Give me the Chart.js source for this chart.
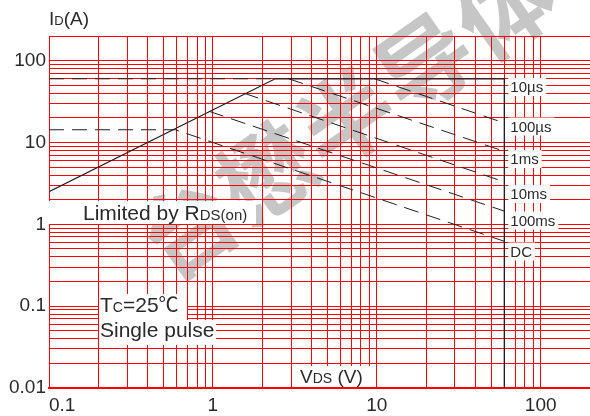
<!DOCTYPE html>
<html>
<head>
<meta charset="utf-8">
<script src="https://cdn.jsdelivr.net/npm/chart.js@4.4.1/dist/chart.umd.min.js"></script>
<style>
  html, body { margin: 0; padding: 0; background: #fff; }
  #wrap { width: 590px; height: 416px; }
</style>
</head>
<body>
<div id="wrap"><canvas id="soa"></canvas></div>
<script>
// VDS (V) and ID (A) for each limit line
const rdsLimitV = [0.1, 2.4, 60, 60];
const rdsLimitI = [2.5, 60, 60, 0.01];
const peakDashV = [0.1, 2.4];
const peakDashI = [60, 60];
const us100V = [9.7, 60];
const us100I = [60, 17.3];
const ms1V = [2.9, 60];
const ms1I = [60, 7.8];
const ms10V = [1.55, 60];
const ms10I = [40, 3.3];
const ms100V = [0.95, 60];
const ms100I = [24, 1.45];
const dcV = [0.1, 0.59, 60];
const dcI = [14.3, 14.3, 0.62];

const pulseLabels = ["10µs", "100µs", "1ms", "10ms", "100ms", "DC"];
const xTickLabels = ["0.1", "1", "10", "100"];
const yTickLabels = ["0.01", "0.1", "1", "10", "100"];
const xMin = 0.1, xMax = 200;
const yMin = 0.01, yMax = 200;

const FONT = '"Liberation Sans", Arial, sans-serif';
const TEXT = "#2a2a2a";

// log grid: 1..9 in every decade
function logGrid(min, max) {
    const out = [];
    for (let d = min; d <= max; d *= 10) {
        for (let m = 1; m <= 9; m++) {
            const v = Number((d * m).toPrecision(3));
            if (v <= max + 1e-9) out.push(v);
        }
    }
    return out;
}

const pts = (xs, ys) => xs.map((x, i) => ({ x: x, y: ys[i] }));

function line(xs, ys, dashed) {
    return {
        data: pts(xs, ys),
        showLine: true,
        borderColor: "#1e1e1e",
        borderWidth: dashed ? 1 : 1.3,
        borderDash: dashed ? [15, 8] : [],
        pointRadius: 0,
        fill: false,
    };
}

// text with small subscript parts: [text, size, font?]
function drawRich(ctx, parts, x, y) {
    let cx = x;
    parts.forEach(([txt, size, fam]) => {
        ctx.font = size + "px " + (fam || FONT);
        ctx.fillText(txt, cx, y);
        cx += ctx.measureText(txt).width;
    });
    return cx - x;
}

const notes = [
    { parts: [["I", 19], ["D", 13], ["(A)", 19]], x: 49, y: 25 },
    { parts: [["Limited by R", 21], ["DS(on)", 15]], x: 83, y: 220, box: [49, 201, 207, 23] },
    { parts: [["T", 21], ["C", 14], ["=25", 21], ["℃", 20, '"Noto Sans CJK SC"']], x: 100, y: 312, box: [99, 294, 88, 26] },
    { parts: [["Single pulse", 21]], x: 100, y: 337, box: [99, 320, 117, 25] },
    { parts: [["V", 19], ["DS", 14], [" (V)", 19]], x: 300, y: 383, box: [296, 366, 77, 21] },
];
const pulseBaselines = [92, 131.5, 164, 199, 225.5, 256.5];

const watermark = {
    id: "watermark",
    beforeDraw(chart) {
        const ctx = chart.ctx;
        const chars = "台懋半导体".split("");
        ctx.save();
        ctx.fillStyle = "rgb(198,198,198)";
        ctx.font = 'bold 94px "Noto Sans CJK SC"';
        ctx.textAlign = "center";
        ctx.textBaseline = "middle";
        chars.forEach((ch, i) => {
            ctx.save();
            ctx.translate(188 + i * 79, 228 - i * 55);
            ctx.rotate(-35 * Math.PI / 180);
            ctx.fillText(ch, 0, 0);
            ctx.restore();
        });
        ctx.restore();
    },
};

const annotations = {
    id: "annotations",
    afterDatasetsDraw(chart) {
        const ctx = chart.ctx;
        ctx.save();
        ctx.textBaseline = "alphabetic";
        ctx.textAlign = "left";
        notes.forEach(n => {
            if (n.box) {
                ctx.fillStyle = "#fff";
                ctx.fillRect(n.box[0], n.box[1], n.box[2], n.box[3]);
            }
            ctx.fillStyle = TEXT;
            drawRich(ctx, n.parts, n.x, n.y);
        });
        const lx = chart.scales.x.getPixelForValue(60) + 6;
        ctx.font = "15px " + FONT;
        pulseLabels.forEach((t, i) => {
            const w = ctx.measureText(t).width;
            ctx.fillStyle = "#fff";
            ctx.fillRect(lx - 2, pulseBaselines[i] - 14, w + 5, 18);
            ctx.fillStyle = TEXT;
            ctx.fillText(t, lx, pulseBaselines[i]);
        });
        ctx.restore();
    },
};

new Chart(document.getElementById("soa"), {
    type: "scatter",
    data: {
        datasets: [
            line(rdsLimitV, rdsLimitI, false),
            line(peakDashV, peakDashI, true),
            line(us100V, us100I, true),
            line(ms1V, ms1I, true),
            line(ms10V, ms10I, true),
            line(ms100V, ms100I, true),
            line(dcV, dcI, true),
        ],
    },
    options: {
        responsive: true,
        maintainAspectRatio: false,
        animation: false,
        layout: { padding: { top: 36, left: 0, right: 0, bottom: 0 } },
        plugins: { legend: { display: false }, tooltip: { enabled: false } },
        scales: {
            x: {
                type: "logarithmic",
                min: xMin,
                max: xMax,
                afterBuildTicks: (s) => { s.ticks = logGrid(xMin, xMax).map(v => ({ value: v })); },
                afterFit: (s) => { s.height = 28; s.paddingRight = 0; s.paddingLeft = 0; },
                grid: { color: "#ff0000", lineWidth: 1, drawTicks: false },
                border: { color: "#ff0000", width: 2 },
                ticks: {
                    autoSkip: false,
                    maxRotation: 0,
                    align: "inner",
                    padding: 6,
                    color: TEXT,
                    font: { family: FONT, size: 19 },
                    callback: (v) => xTickLabels.includes(String(v)) ? String(v) : "",
                },
            },
            y: {
                type: "logarithmic",
                min: yMin,
                max: yMax,
                afterBuildTicks: (s) => { s.ticks = logGrid(yMin, yMax).map(v => ({ value: v })); },
                afterFit: (s) => { s.width = 49; },
                grid: { color: "#ff0000", lineWidth: 1, drawTicks: false },
                border: { color: "#ff0000", width: 1 },
                ticks: {
                    autoSkip: false,
                    padding: 3,
                    color: TEXT,
                    font: { family: FONT, size: 19 },
                    callback: (v) => yTickLabels.includes(String(v)) ? String(v) : "",
                },
            },
        },
    },
    plugins: [watermark, annotations],
});
</script>
</body>
</html>
